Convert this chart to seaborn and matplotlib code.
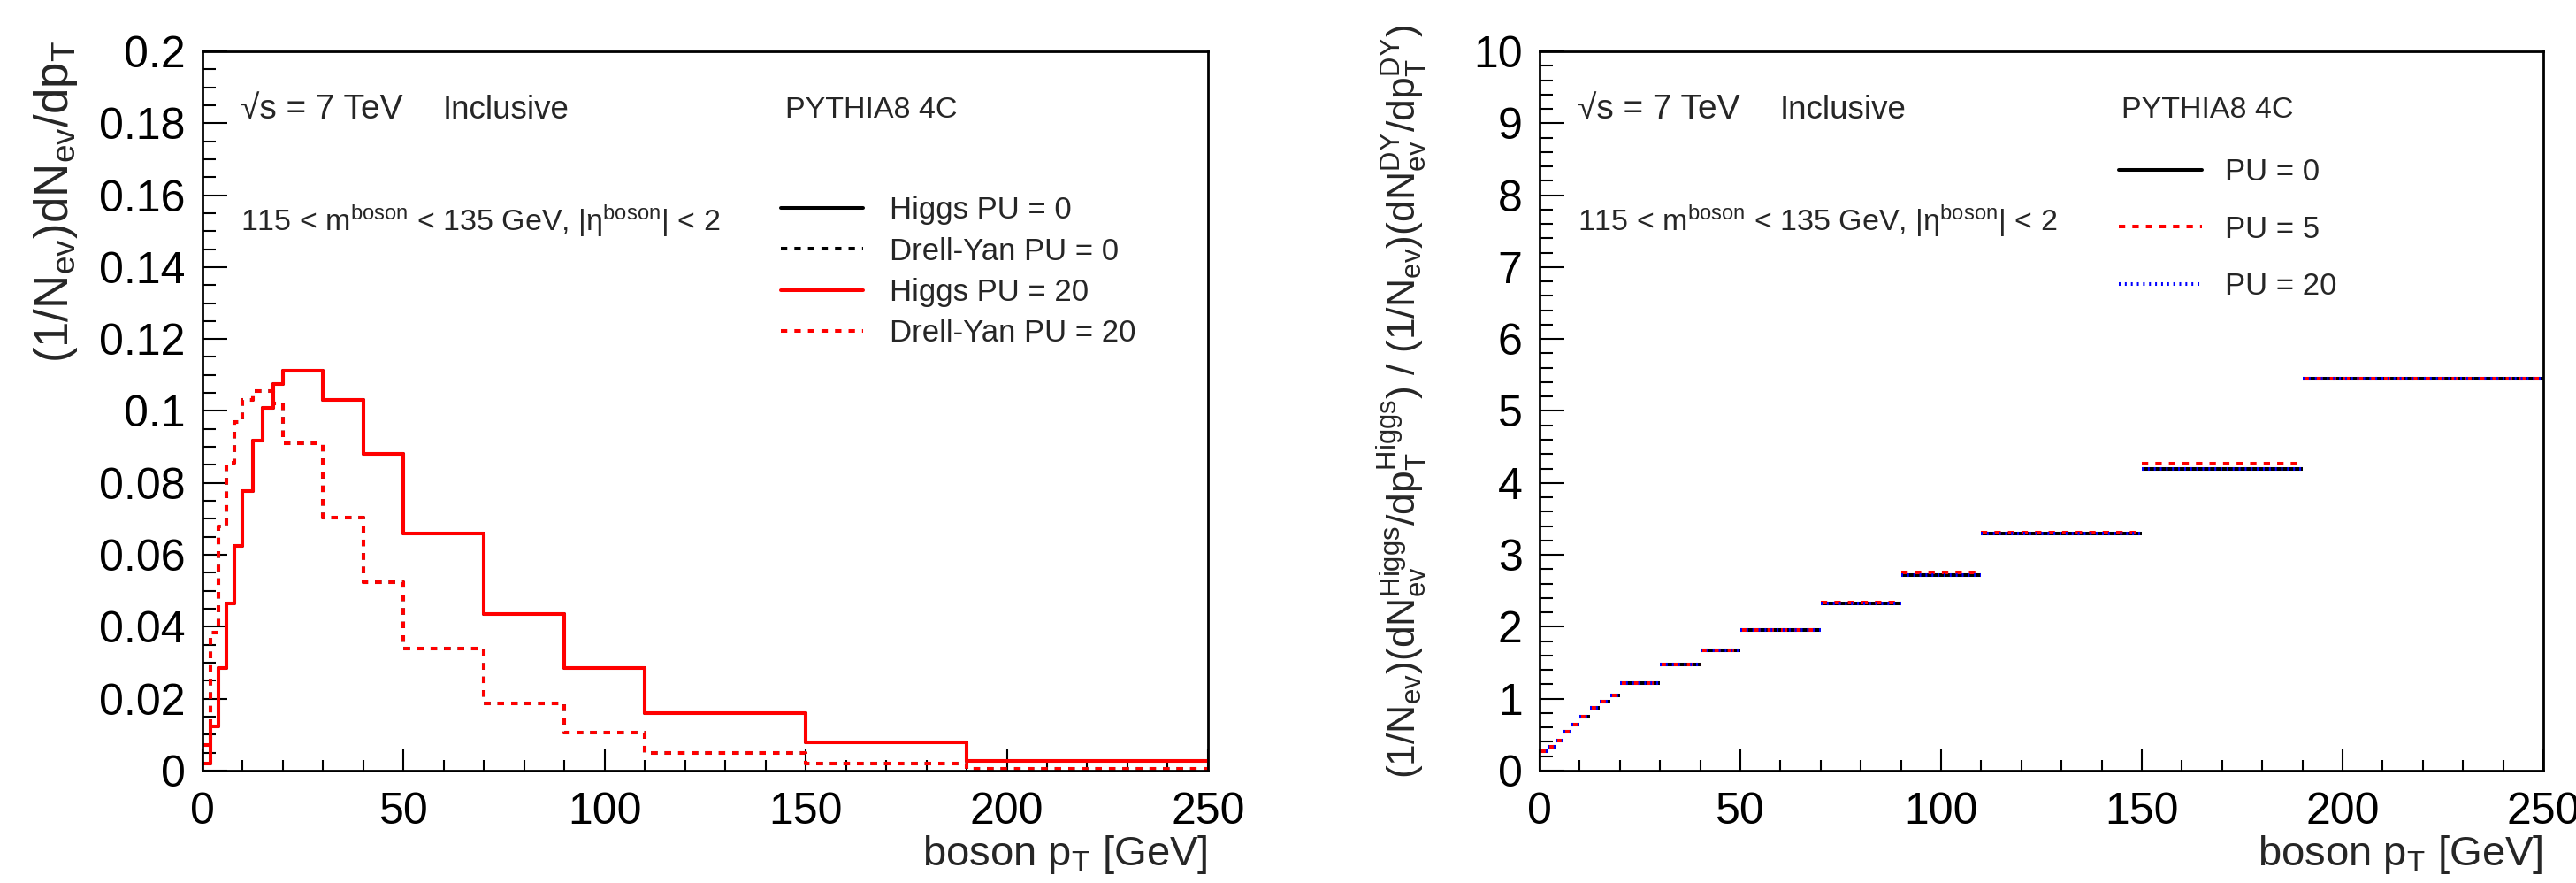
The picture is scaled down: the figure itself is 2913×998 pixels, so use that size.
import matplotlib
matplotlib.use('Agg')
import matplotlib.pyplot as plt
import numpy as np
import pandas as pd
import seaborn as sns
from matplotlib.lines import Line2D
from matplotlib.ticker import MultipleLocator, FormatStrFormatter

# bin edges in boson pT [GeV]
pt_edges = [0, 2, 4, 6, 8, 10, 12.5, 15, 17.5, 20, 30, 40, 50, 70, 90, 110, 150, 190, 250]

# normalised distributions (left panel)
higgs_pu0 = [0.0019, 0.0122, 0.0286, 0.0464, 0.0625, 0.0778, 0.0918, 0.1009, 0.1074,
             0.1112, 0.1030, 0.0880, 0.0660, 0.0435, 0.0286, 0.0161, 0.0078, 0.0028]
higgs_pu20 = [0.0019, 0.0122, 0.0286, 0.0464, 0.0625, 0.0778, 0.0918, 0.1009, 0.1074,
              0.1112, 0.1030, 0.0880, 0.0660, 0.0435, 0.0286, 0.0161, 0.0078, 0.0028]
dy_pu0 = [0.0072, 0.0384, 0.0680, 0.0857, 0.0970, 0.1030, 0.1056, 0.1056, 0.1020,
          0.0909, 0.0703, 0.0525, 0.0339, 0.0187, 0.0105, 0.0049, 0.0019, 0.0005]
dy_pu20 = [0.0072, 0.0384, 0.0680, 0.0857, 0.0970, 0.1030, 0.1056, 0.1056, 0.1020,
           0.0909, 0.0703, 0.0525, 0.0339, 0.0187, 0.0105, 0.0049, 0.0019, 0.0005]

# Higgs / Drell-Yan ratio (right panel)
ratio_pu0 = [0.27, 0.33, 0.42, 0.54, 0.64, 0.75, 0.87, 0.96, 1.05,
             1.22, 1.47, 1.67, 1.95, 2.33, 2.72, 3.30, 4.20, 5.45]
ratio_pu5 = [0.27, 0.33, 0.42, 0.54, 0.64, 0.75, 0.87, 0.96, 1.05,
             1.22, 1.47, 1.67, 1.95, 2.34, 2.75, 3.31, 4.27, 5.45]
ratio_pu20 = [0.27, 0.33, 0.42, 0.54, 0.64, 0.75, 0.87, 0.96, 1.05,
              1.22, 1.47, 1.67, 1.95, 2.33, 2.72, 3.30, 4.20, 5.45]

sns.set_theme(style='ticks')
plt.rcParams['font.family'] = ['Liberation Sans', 'DejaVu Sans']
plt.rcParams['mathtext.default'] = 'regular'

edges = np.array(pt_edges)
centers = 0.5 * (edges[:-1] + edges[1:])
lw = 2.9
dash = (0, (1.8, 2.0))
dot = (0, (0.5, 1.2))

fig = plt.figure(figsize=(29.13, 9.98), dpi=100)
ax1 = fig.add_axes([0.0786, 0.1273, 0.3903, 0.8146])
ax2 = fig.add_axes([0.5977, 0.1273, 0.3896, 0.8146])

# left panel: step histograms
for vals, col, ls in [(higgs_pu0, 'black', '-'), (dy_pu0, 'black', dash),
                      (higgs_pu20, 'red', '-'), (dy_pu20, 'red', dash)]:
    d = pd.DataFrame({'pt': centers, 'w': vals})
    sns.histplot(data=d, x='pt', weights='w', bins=list(pt_edges), element='step', fill=False,
                 color=col, linestyle=ls, linewidth=lw, ax=ax1)

# right panel: ratio per bin
for vals, col, ls in [(ratio_pu0, 'black', '-'), (ratio_pu5, 'red', dash),
                      (ratio_pu20, 'blue', dot)]:
    ax2.hlines(vals, edges[:-1], edges[1:], colors=col, linestyles=ls, linewidth=lw)

for ax in (ax1, ax2):
    ax.set_xlim(0, 250)
    ax.xaxis.set_major_locator(MultipleLocator(50))
    ax.xaxis.set_minor_locator(MultipleLocator(10))
    ax.tick_params(axis='both', which='both', direction='in', colors='black',
                   labelsize=36, top=False, right=False)
    ax.tick_params(axis='x', which='major', length=17, width=1.5, pad=17)
    ax.tick_params(axis='x', which='minor', length=9, width=1.5)
    ax.tick_params(axis='y', which='major', length=20, width=1.5, pad=14)
    ax.tick_params(axis='y', which='minor', length=11, width=1.5)
    for sp in ax.spines.values():
        sp.set_visible(True)
        sp.set_linewidth(2)
        sp.set_color('black')
    ax.set_xlabel(r'boson p$_{T}$ [GeV]', fontsize=34, loc='right')
    ax.xaxis.set_label_coords(1.0, -0.088)
    ax.xaxis.label.set_va('top')

ax1.set_ylim(0, 0.2)
ax1.yaxis.set_major_locator(MultipleLocator(0.02))
ax1.yaxis.set_minor_locator(MultipleLocator(0.005))
ax1.yaxis.set_major_formatter(FormatStrFormatter('%g'))
ax1.set_ylabel(r'(1/N$_{ev}$)dN$_{ev}$/dp$_{T}$', fontsize=38, loc='top')
ax1.yaxis.set_label_coords(-0.122, 1.015)

ax2.set_ylim(0, 10)
ax2.yaxis.set_major_locator(MultipleLocator(1))
ax2.yaxis.set_minor_locator(MultipleLocator(0.2))
ax2.set_ylabel(r'(1/N$_{ev}$)(dN$_{ev}^{Higgs}$/dp$_{T}^{Higgs}$) / (1/N$_{ev}$)(dN$_{ev}^{DY}$/dp$_{T}^{DY}$)',
               fontsize=32, loc='top')
ax2.yaxis.set_label_coords(-0.11, 1.037)

# annotations
for ax in (ax1, ax2):
    ax.text(0.038, 0.918, '√s = 7 TeV', transform=ax.transAxes, fontsize=28, va='center')
    ax.text(0.239, 0.918, 'Inclusive', transform=ax.transAxes, fontsize=26.5, va='center')
    ax.text(0.038, 0.764, r'115 < m$^{boson}$ < 135 GeV, |$\eta^{boson}$| < 2',
            transform=ax.transAxes, fontsize=24.5, va='center')
    ax.text(0.58, 0.918, 'PYTHIA8 4C', transform=ax.transAxes, fontsize=24.5, va='center')

h1 = [Line2D([], [], color='black', lw=lw, ls='-'),
      Line2D([], [], color='black', lw=lw, ls=dash),
      Line2D([], [], color='red', lw=lw, ls='-'),
      Line2D([], [], color='red', lw=lw, ls=dash)]
ax1.legend(h1, ['Higgs PU = 0', 'Drell-Yan PU = 0', 'Higgs PU = 20', 'Drell-Yan PU = 20'],
           loc='upper left', bbox_to_anchor=(0.575, 0.799), frameon=False, fontsize=25,
           handlelength=2.7, handletextpad=0.85, labelspacing=0.38, borderpad=0, borderaxespad=0)

h2 = [Line2D([], [], color='black', lw=lw, ls='-'),
      Line2D([], [], color='red', lw=lw, ls=dash),
      Line2D([], [], color='blue', lw=lw, ls=dot)]
ax2.legend(h2, ['PU = 0', 'PU = 5', 'PU = 20'],
           loc='upper left', bbox_to_anchor=(0.577, 0.852), frameon=False, fontsize=25,
           handlelength=2.7, handletextpad=0.75, labelspacing=0.9, borderpad=0, borderaxespad=0)

fig.savefig('out.png', dpi=100)
